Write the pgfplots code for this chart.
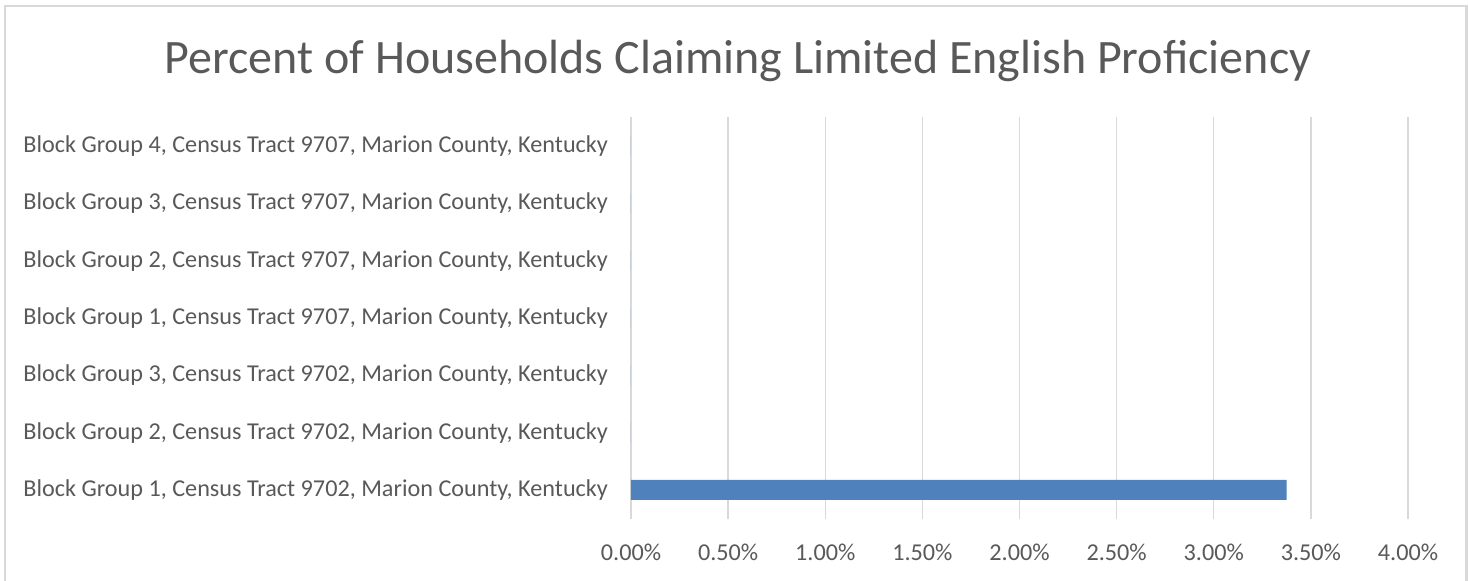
\documentclass[border=0pt]{standalone}
\usepackage{pgfplots}
\pgfplotsset{compat=1.18}
\usepackage{fontspec}
\setmainfont{Carlito}
\definecolor{txt}{HTML}{595959}
\definecolor{barc}{HTML}{4F81BD}
\definecolor{gridc}{HTML}{D9D9D9}
\begin{document}
\begin{tikzpicture}
\path[use as bounding box] (0pt,0pt) rectangle (734.5pt,290pt);
\draw[color=gridc,line width=1.2pt] (2.5pt,-5pt) -- (2.5pt,287pt) -- (733.25pt,287pt) -- (733.25pt,-5pt);
\node[text=txt,font=\fontsize{24}{28}\selectfont] at (369pt,259.5pt) {Percent of Households Claiming Limited English Proficiency};
\begin{axis}[
  at={(315.5pt,30.7pt)}, anchor=south west,
  scale only axis, width=388.5pt, height=200.6pt,
  xbar, bar width=10pt,
  xmin=0, xmax=0.04,
  ymin=-0.5, ymax=6.5,
  xtick={0,0.005,0.01,0.015,0.02,0.025,0.03,0.035,0.04},
  xticklabels={0.00\%,0.50\%,1.00\%,1.50\%,2.00\%,2.50\%,3.00\%,3.50\%,4.00\%},
  ytick={0,1,2,3,4,5,6},
  yticklabels={
    {Block Group 1, Census Tract 9702, Marion County, Kentucky},
    {Block Group 2, Census Tract 9702, Marion County, Kentucky},
    {Block Group 3, Census Tract 9702, Marion County, Kentucky},
    {Block Group 1, Census Tract 9707, Marion County, Kentucky},
    {Block Group 2, Census Tract 9707, Marion County, Kentucky},
    {Block Group 3, Census Tract 9707, Marion County, Kentucky},
    {Block Group 4, Census Tract 9707, Marion County, Kentucky}},
  xmajorgrids, major grid style={color=gridc,line width=0.7pt},
  axis line style={draw=none},
  major tick length=0pt,
  tick label style={text=txt,font=\fontsize{12.1}{14}\selectfont},
  xticklabel style={yshift=-9pt},
  yticklabel style={xshift=-8pt},
  /pgf/number format/assume math mode=true,
  scaled x ticks=false,
  clip=false,
]
\addplot[fill=barc,draw=none] coordinates {(0.03375,0) (0,1) (0,2) (0,3) (0,4) (0,5) (0,6)};
\end{axis}
\end{tikzpicture}
\end{document}
